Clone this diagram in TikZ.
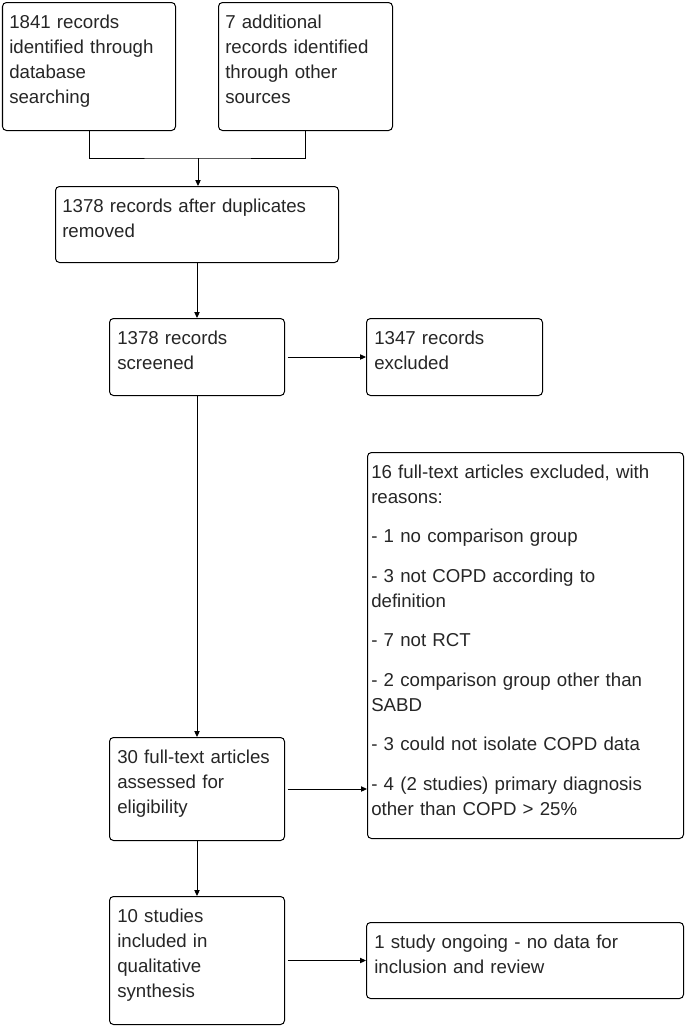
\documentclass[tikz,border=0pt]{standalone}
\usepackage{fontspec}
\setmainfont{Liberation Sans}
\usetikzlibrary{arrows.meta}
\begin{document}
\begin{tikzpicture}[x=0.75pt,y=-0.75pt,
  box/.style={draw, line width=0.75pt, rounded corners=3pt, inner sep=0pt, anchor=north west},
  txt/.style={font=\fontsize{14}{18.75}\selectfont, text=black!85, align=left, anchor=base west, inner sep=0pt},
  conn/.style={line width=0.75pt},
  arr/.style={line width=0.75pt, -{Triangle[length=4.5pt,width=4pt]}}]
\path[fill=white] (0,0) rectangle (685,1026);
\useasboundingbox (0,0) rectangle (685,1026);
% boxes
\node[box, minimum width=129.75pt, minimum height=96pt] (a) at (2,2) {};
\node[box, minimum width=130.5pt, minimum height=96pt] (b) at (218,2) {};
\node[box, minimum width=212.25pt, minimum height=57pt] (c) at (55,186) {};
\node[box, minimum width=131.25pt, minimum height=57.75pt] (d) at (109,318) {};
\node[box, minimum width=132pt, minimum height=57.75pt] (e) at (366,318) {};
\node[box, minimum width=237pt, minimum height=289.5pt] (f) at (367,452) {};
\node[box, minimum width=131.25pt, minimum height=77.25pt] (g) at (109,737) {};
\node[box, minimum width=131.25pt, minimum height=96pt] (h) at (109,896) {};
\node[box, minimum width=237.75pt, minimum height=57pt] (i) at (366,922) {};
% texts
\node[txt, text width=125pt] (ta) at ([shift={(7,26)}]a.north west) {1841 records\\identified through\\database\\searching};
\node[txt, text width=125pt] (tb) at ([shift={(7,26)}]b.north west) {7 additional\\records identified\\through other\\sources};
\node[txt, text width=205pt] (tc) at ([shift={(7,26)}]c.north west) {1378 records after duplicates\\removed};
\node[txt, text width=125pt] (td) at ([shift={(8,26)}]d.north west) {1378 records\\screened};
\node[txt, text width=125pt] (te) at ([shift={(8,26)}]e.north west) {1347 records\\excluded};
\node[txt, text width=234pt] (tf) at ([shift={(4,26)}]f.north west) {16 full-text articles excluded, with\\reasons:\\[10.9pt]- 1 no comparison group\\[10.9pt]- 3 not COPD according to\\definition\\[10.9pt]- 7 not RCT\\[10.9pt]- 2 comparison group other than\\SABD\\[10.9pt]- 3 could not isolate COPD data\\[10.9pt]- 4 (2 studies) primary diagnosis\\other than COPD > 25\%};
\node[txt, text width=125pt] (tg) at ([shift={(8,26)}]g.north west) {30 full-text articles\\assessed for\\eligibility};
\node[txt, text width=125pt] (th) at ([shift={(8,26)}]h.north west) {10 studies\\included in\\qualitative\\synthesis};
\node[txt, text width=230pt] (ti) at ([shift={(8,26)}]i.north west) {1 study ongoing - no data for\\inclusion and review};
% connectors
\coordinate (j) at (198,158);
\draw[conn] (a.south) |- (j) -| (b.south);
\draw[arr] (j) -- (j |- c.north);
\draw[arr] (c.south) -- (d.north);
\draw[arr] ([xshift=2]d.east) -- (e.west);
\draw[arr] (d.south) -- (g.north);
\draw[arr] ([xshift=2]g.east) -- (g.east -| f.west);
\draw[arr] (g.south) -- (h.north);
\draw[arr] ([xshift=2]h.east) -- (i.west);
\end{tikzpicture}
\end{document}
